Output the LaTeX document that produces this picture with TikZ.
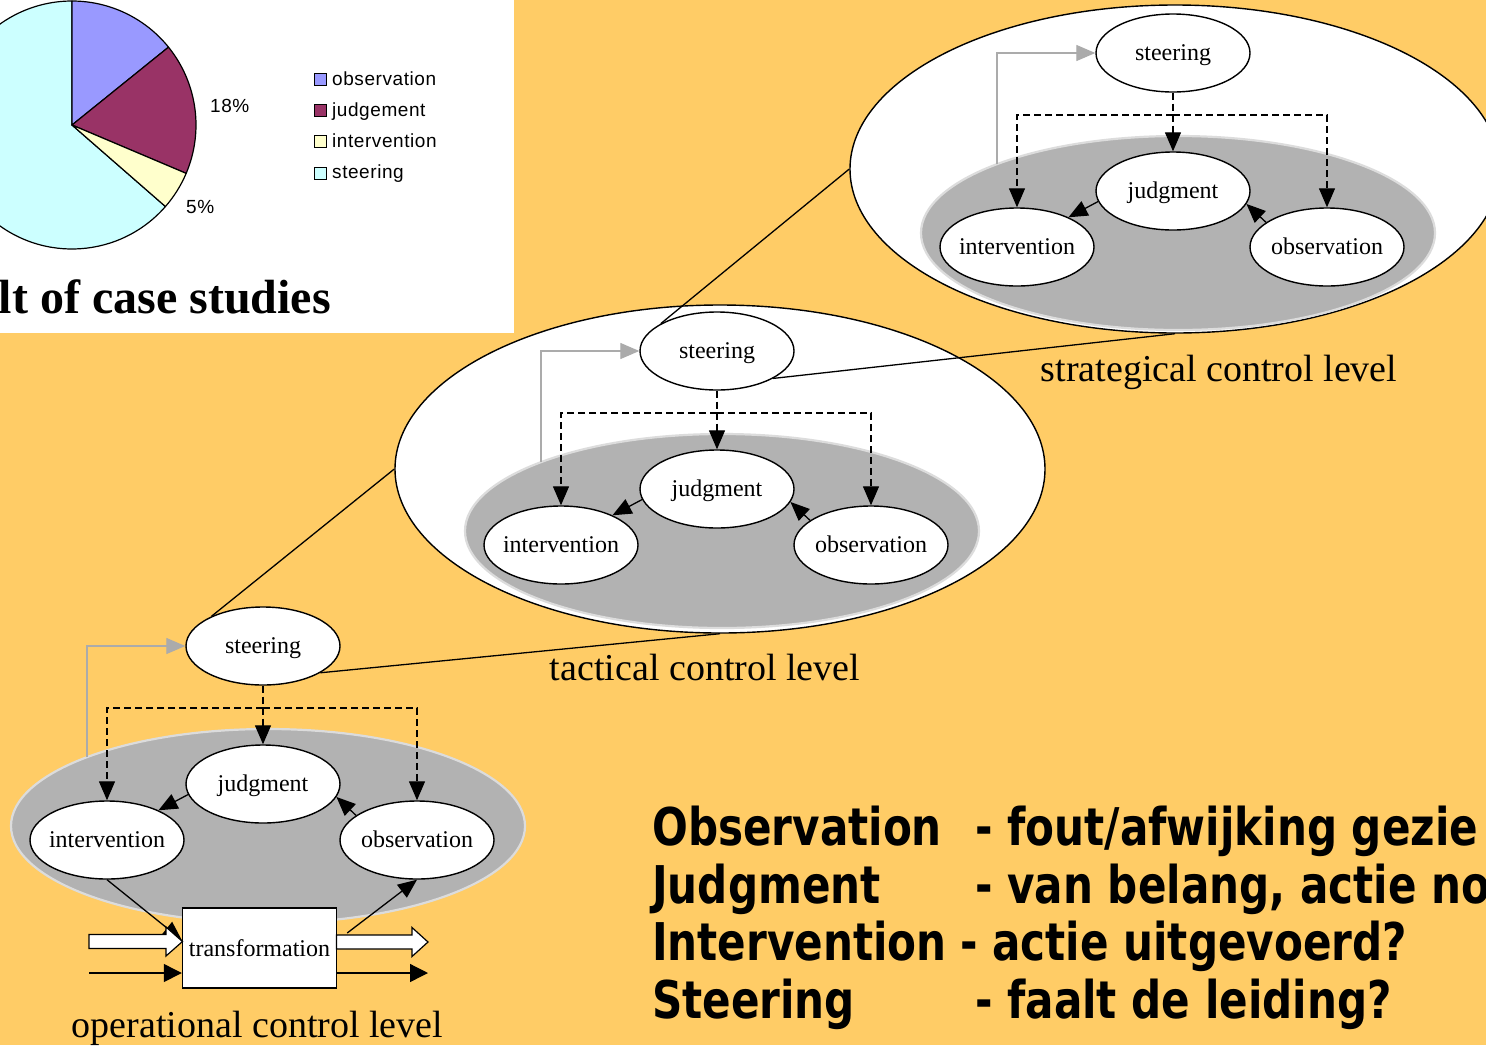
\documentclass[tikz,border=0pt]{standalone}
\usepackage{fontspec}
\setmainfont{Liberation Serif}
\newfontfamily\chartfont[LetterSpace=3]{Liberation Sans}
\newfontfamily\notefont[FakeStretch=0.81]{DejaVu Sans}
\usetikzlibrary{shapes.geometric,arrows.meta,calc}

\definecolor{slidebg}{HTML}{FFCC66}
\definecolor{loopgray}{HTML}{B2B2B2}
\definecolor{loopedge}{HTML}{DCDCDC}
\definecolor{feedgray}{HTML}{ABABAB}
\definecolor{pieobs}{HTML}{9999FF}
\definecolor{piejud}{HTML}{993366}
\definecolor{pieint}{HTML}{FFFFCC}
\definecolor{piesteer}{HTML}{CCFFFF}

\tikzset{
  stage/.style={ellipse, draw=black, line width=1.4pt, fill=white,
    minimum width=154pt, minimum height=78pt, inner xsep=-4pt, inner ysep=0pt,
    text height=16pt, text depth=2pt,
    font=\fontsize{24}{28}\selectfont},
  lens/.style={ellipse, draw=black, line width=1.4pt, fill=white,
    minimum width=650pt, minimum height=328pt, inner sep=0pt},
  loopzone/.style={ellipse, draw=loopedge, line width=2.2pt, fill=loopgray,
    minimum width=514pt, minimum height=194pt, inner sep=0pt},
  flowtip/.style={-{Triangle[length=19pt,width=16pt]}},
  flow/.style={flowtip, line width=1.3pt},
  cmdline/.style={flow, dash pattern=on 7pt off 4pt},
  feedback/.style={draw=feedgray, line width=1.3pt,
    -{Triangle[length=19pt,width=16pt,fill=feedgray]}},
  zoomline/.style={line width=1.3pt},
  levellabel/.style={font=\fontsize{38}{44}\selectfont, anchor=base, inner sep=0pt},
  notetext/.style={font=\notefont\bfseries\fontsize{52}{60}\selectfont,
    anchor=base west, inner sep=0pt},
  keybox/.style={draw=black, line width=1pt, minimum size=12pt, inner sep=0pt},
  keytext/.style={font=\chartfont\fontsize{19}{22}\selectfont, anchor=base west, inner sep=0pt},
  block/.style={fill=white, draw=black, line width=1.2pt, line join=miter},
}

% One control loop: #1 name prefix, (#2,#3) centre of its steering node
\newcommand\controlloop[3]{%
  \node[loopzone] (#1-zone) at (#2+5,#3+180) {};
  \node[stage] (#1-steer) at (#2,#3) {steering};
  \node[stage] (#1-judg) at (#2,#3+138) {judgment};
  \node[stage] (#1-int) at (#2-156,#3+194) {intervention};
  \node[stage] (#1-obs) at (#2+154,#3+194) {observation};
  \coordinate (#1-fb) at (#2-176,#3+111);
  \coordinate (#1-bar) at (#2,#3+62);
  \draw[feedback] (#1-fb) |- (#1-steer);
  \draw[cmdline] (#1-steer) -- (#1-judg);
  \draw[cmdline] (#1-bar) -| (#1-int);
  \draw[cmdline] (#1-bar) -| (#1-obs);
  \draw[flow] (#1-judg.188) -- (#1-int.30);
  \draw[flow] (#1-obs.158) -- (#1-judg.-10);
}

\begin{document}
\begin{tikzpicture}[x=1pt,y=-1pt]
\useasboundingbox (0,0) rectangle (1486,1045);
\clip (0,0) rectangle (1486,1045);
\fill[slidebg] (0,0) rectangle (1486,1045);

% chart panel
\fill[white] (0,0) rectangle (514,333);
\begin{scope}[line width=1.2pt, line join=round]
  \filldraw[fill=piesteer] (72,125) -- ++(41.1:124) arc[start angle=41.1, end angle=270, radius=124] -- cycle;
  \filldraw[fill=pieobs] (72,125) -- ++(-90:124) arc[start angle=-90, end angle=-38.9, radius=124] -- cycle;
  \filldraw[fill=piejud] (72,125) -- ++(-38.9:124) arc[start angle=-38.9, end angle=22.96, radius=124] -- cycle;
  \filldraw[fill=pieint] (72,125) -- ++(22.96:124) arc[start angle=22.96, end angle=41.1, radius=124] -- cycle;
\end{scope}
\node[keytext] (pct-jud) at (210,112) {18\%};
\node[keytext] (pct-int) at (186,213) {5\%};
\node[keybox, fill=pieobs] (key-obs) at (320,79.5) {};
\node[keybox, fill=piejud] (key-jud) at (320,110.5) {};
\node[keybox, fill=pieint] (key-int) at (320,141.5) {};
\node[keybox, fill=piesteer] (key-steer) at (320,173) {};
\node[keytext] (lbl-obs) at (332,85) {observation};
\node[keytext] (lbl-jud) at (332,116) {judgement};
\node[keytext] (lbl-int) at (332,147) {intervention};
\node[keytext] (lbl-steer) at (332,178.5) {steering};
\node[font=\bfseries\fontsize{48}{56}\selectfont, anchor=base east, inner sep=0pt] (title) at (331,313) {lt of case studies};

% strategical level
\node[lens] (str-lens) at (1175,169) {};
\controlloop{str}{1173}{53}
\node[levellabel] (str-label) at (1219,381) {strategical control level};

% tactical level
\node[lens] (tac-lens) at (720,469) {};
\controlloop{tac}{717}{351}
\node[levellabel] (tac-label) at (705,680) {tactical control level};

% operational level
\controlloop{op}{263}{646}
\node[draw=black, line width=1.4pt, fill=white, minimum width=154pt, minimum height=80pt,
  inner sep=0pt, font=\fontsize{24}{28}\selectfont] (tf) at (259.5,948) {transformation};
\draw[flow] (op-int.south) -- ($(tf.west)+(0,-8)$);
\draw[flow] ($(tf.east)+(10,-15)$) -- (op-obs.south);
% material flows through the transformation
\filldraw[block] (89,934.5) -- (166,934.5) -- (166,927) -- (182.5,941.5) -- (166,956) -- (166,948.5) -- (89,948.5) -- cycle;
\filldraw[block] (336.5,935) -- (412,935) -- (412,927.5) -- (428,942) -- (412,956.5) -- (412,949) -- (336.5,949) -- cycle;
\coordinate (src) at (89,973);
\coordinate (sink) at (428,973);
\draw[line width=1.3pt, -{Triangle[length=18pt,width=18pt]}] (src) -- (src -| tf.west);
\draw[line width=1.3pt, -{Triangle[length=18pt,width=18pt]}] (sink -| tf.east) -- (sink);
\node[levellabel] (op-label) at (257.5,1037) {operational control level};

% zoom lines between levels
\draw[zoomline] (str-lens.west) -- (tac-steer.154);
\draw[zoomline] (tac-steer.-26) -- (str-lens.south);
\draw[zoomline] (tac-lens.west) -- (op-steer.150);
\draw[zoomline] (op-steer.-25) -- (tac-lens.south);

% meaning of the four functions
\node[notetext] (n-obs) at (652,845) {Observation};
\node[notetext] (n-jud) at (652,903) {Judgment};
\node[notetext] (n-int) at (652,960) {Intervention};
\node[notetext] (n-steer) at (652,1018) {Steering};
\node[notetext] (d-obs) at (975,845) {- fout/afwijking gezie};
\node[notetext] (d-jud) at (975,903) {- van belang, actie no};
\node[notetext] (d-int) at (960,960) {- actie uitgevoerd?};
\node[notetext] (d-steer) at (975,1018) {- faalt de leiding?};
\end{tikzpicture}
\end{document}
